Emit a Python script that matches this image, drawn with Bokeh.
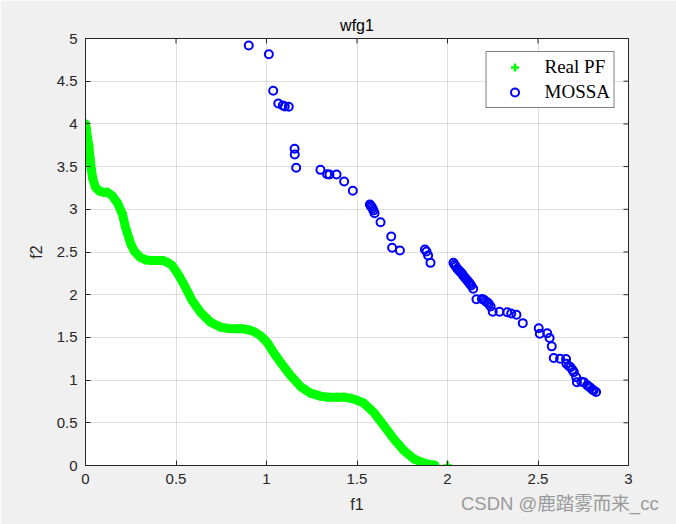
import math
from bokeh.plotting import figure
from bokeh.models import FixedTicker, Range1d, Div
from bokeh.layouts import column
from bokeh.embed import file_html
from bokeh.resources import INLINE

# Real Pareto front
pf_x = [0.000, 0.004, 0.010, 0.018, 0.025, 0.032, 0.040, 0.055, 0.075, 0.098, 0.120, 0.147,
        0.175, 0.203, 0.221, 0.249, 0.270, 0.300, 0.330, 0.360, 0.400, 0.430, 0.460, 0.480,
        0.516, 0.552, 0.589, 0.635, 0.691, 0.746, 0.790, 0.838, 0.870, 0.900, 0.930, 0.967,
        1.004, 1.040, 1.077, 1.133, 1.188, 1.243, 1.298, 1.340, 1.390, 1.430, 1.470, 1.500,
        1.538, 1.593, 1.648, 1.703, 1.759, 1.814, 1.870, 1.900, 1.930, 2.000]
pf_y = [4.000, 3.950, 3.850, 3.750, 3.600, 3.470, 3.360, 3.260, 3.215, 3.200, 3.200, 3.160,
        3.080, 2.950, 2.790, 2.600, 2.510, 2.440, 2.410, 2.400, 2.400, 2.400, 2.370, 2.340,
        2.225, 2.088, 1.932, 1.795, 1.678, 1.620, 1.605, 1.600, 1.600, 1.590, 1.570, 1.520,
        1.440, 1.320, 1.210, 1.054, 0.925, 0.847, 0.812, 0.800, 0.800, 0.800, 0.785, 0.765,
        0.730, 0.620, 0.468, 0.312, 0.176, 0.078, 0.027, 0.012, 0.003, 0.000]

# MOSSA solutions
mossa_x = [0.902, 1.013, 1.037, 1.065, 1.090, 1.101, 1.123, 1.155, 1.156, 1.164, 1.298, 1.335,
           1.348, 1.387, 1.429, 1.477, 1.571, 1.576, 1.580, 1.586, 1.591, 1.597, 1.630, 1.689,
           1.694, 1.737, 1.875, 1.884, 1.893, 1.906, 2.033, 2.039, 2.046, 2.054, 2.063, 2.072,
           2.080, 2.087, 2.094, 2.101, 2.110, 2.118, 2.125, 2.131, 2.142, 2.160, 2.190, 2.201,
           2.210, 2.220, 2.228, 2.238, 2.250, 2.287, 2.330, 2.352, 2.381, 2.416, 2.504, 2.510,
           2.551, 2.564, 2.576, 2.587, 2.622, 2.655, 2.657, 2.670, 2.680, 2.690, 2.698, 2.711,
           2.715, 2.740, 2.753, 2.772, 2.780, 2.790, 2.800, 2.808, 2.821]
mossa_y = [4.918, 4.816, 4.388, 4.239, 4.216, 4.204, 4.200, 3.708, 3.642, 3.486, 3.462, 3.411,
           3.407, 3.407, 3.326, 3.217, 3.056, 3.040, 3.030, 3.010, 2.986, 2.954, 2.849, 2.681,
           2.549, 2.518, 2.529, 2.506, 2.459, 2.373, 2.373, 2.350, 2.330, 2.303, 2.285, 2.264,
           2.245, 2.225, 2.205, 2.186, 2.165, 2.146, 2.125, 2.108, 2.069, 1.947, 1.950, 1.940,
           1.924, 1.910, 1.893, 1.862, 1.800, 1.800, 1.795, 1.780, 1.765, 1.667, 1.608, 1.542,
           1.549, 1.493, 1.395, 1.258, 1.249, 1.247, 1.191, 1.165, 1.150, 1.120, 1.093, 1.034,
           0.976, 0.980, 0.976, 0.940, 0.925, 0.910, 0.890, 0.878, 0.860]

x_ticks = [0, 0.5, 1, 1.5, 2, 2.5, 3]
x_tick_labels = ["0", "0.5", "1", "1.5", "2", "2.5", "3"]
y_ticks = [0, 0.5, 1, 1.5, 2, 2.5, 3, 3.5, 4, 4.5, 5]
y_tick_labels = ["0", "0.5", "1", "1.5", "2", "2.5", "3", "3.5", "4", "4.5", "5"]

AX = "#262626"
FONT = "Liberation Sans"

p = figure(width=676, height=524, output_backend="svg", toolbar_location=None,
           x_range=Range1d(x_ticks[0], x_ticks[-1]), y_range=Range1d(y_ticks[0], y_ticks[-1]),
           min_border_left=85, min_border_right=48, min_border_top=38, min_border_bottom=59,
           title="wfg1", x_axis_label="f1", y_axis_label="f2")

p.border_fill_color = "#f0f0f0"
p.background_fill_color = "white"
p.outline_line_color = AX
p.outline_line_width = 1

p.title.align = "center"
p.title.text_font = FONT
p.title.text_font_size = "16px"
p.title.text_font_style = "normal"
p.title.text_color = "black"
p.title.standoff = 10

def style_axis(ax, ticks, labels):
    ax.ticker = FixedTicker(ticks=ticks)
    ax.major_label_overrides = {float(t): l for t, l in zip(ticks, labels)}
    ax.axis_line_color = AX
    ax.major_tick_line_color = AX
    ax.major_tick_in = 5
    ax.major_tick_out = 0
    ax.minor_tick_line_color = None
    ax.major_label_text_font = FONT
    ax.major_label_text_color = AX
    ax.major_label_text_font_size = "15px"
    ax.major_label_standoff = 8
    ax.axis_label_text_font = FONT
    ax.axis_label_text_font_size = "16px"
    ax.axis_label_text_font_style = "normal"
    ax.axis_label_text_color = AX
    ax.axis_label_standoff = 9

style_axis(p.xaxis[0], x_ticks, x_tick_labels)
style_axis(p.yaxis[0], y_ticks, y_tick_labels)

p.grid.grid_line_color = AX
p.grid.grid_line_alpha = 0.15
p.xgrid.ticker = FixedTicker(ticks=x_ticks)
p.ygrid.ticker = FixedTicker(ticks=y_ticks)

# inward tick marks on the top and right edges of the box (half of each dash is clipped)
p.scatter(x_ticks, [y_ticks[-1]] * len(x_ticks), marker="dash", angle=math.pi / 2,
          size=10, line_color=AX, line_width=1)
p.scatter([x_ticks[-1]] * len(y_ticks), y_ticks, marker="dash",
          size=10, line_color=AX, line_width=1)

GREEN = "#00ff00"
BLUE = "#0000ff"

p.line(pf_x[:-1], pf_y[:-1], line_color=GREEN, line_width=9,
       line_join="round", line_cap="round")
p.scatter(pf_x, pf_y, marker="cross", size=9, line_width=2.5, line_color=GREEN,
          legend_label="Real PF")
p.scatter(mossa_x, mossa_y, marker="circle", size=8, line_width=2,
          line_color=BLUE, fill_color=None, legend_label="MOSSA")

lg = p.legend[0]
lg.location = "top_right"
lg.margin = 13
lg.padding = 4
lg.spacing = 3
lg.glyph_width = 48
lg.glyph_height = 20
lg.label_height = 20
lg.label_standoff = 6
lg.label_text_font = "Liberation Serif"
lg.label_text_font_size = "19px"
lg.label_text_color = "black"
lg.border_line_color = "black"
lg.border_line_width = 1
lg.background_fill_color = "white"
lg.background_fill_alpha = 1.0

watermark = Div(text="CSDN @鹿踏雾而来_cc",
                styles={"font-family": "'Liberation Sans', 'Noto Sans CJK SC', sans-serif",
                        "font-size": "18.5px", "color": "#9a9a9a", "white-space": "nowrap",
                        "line-height": "24px"},
                width=212, height=24, margin=(-32, 0, 0, 461))

layout = column(p, watermark, spacing=0)

open("out.html", "w").write(file_html(layout, INLINE))
